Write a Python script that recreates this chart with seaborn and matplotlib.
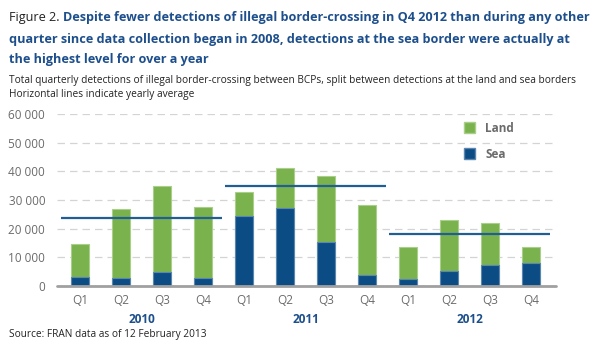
import numpy as np
import pandas as pd
import matplotlib
matplotlib.use("Agg")
import matplotlib.pyplot as plt
import seaborn as sns
from matplotlib.patches import Patch

# --- data ---
years = ["2010", "2011", "2012"]
quarters = ["Q1", "Q2", "Q3", "Q4"]
sea = [3300, 2950, 4900, 2700,
       24300, 27300, 15400, 3850,
       2350, 5250, 7350, 7950]
land = [11400, 23900, 29900, 24750,
        8500, 13900, 23000, 24400,
        11300, 17850, 14700, 5700]
yearly_avg = [23800, 34900, 18200]
yticks = [0, 10000, 20000, 30000, 40000, 50000, 60000]

# --- style ---
GREEN = "#7ab24d"
GREEN_EDGE = "#a9cf8a"
BLUE = "#0c4c85"
BLUE_EDGE = "#5b86ad"
LINE = "#215e94"
TITLE_BLUE = "#1d4f8c"
GREY_TXT = "#6b6b6b"

sns.set_theme(style="white")
plt.rcParams['font.family'] = ['Open Sans', 'DejaVu Sans']

df = pd.DataFrame({
    "period": [f"{y} {q}" for y in years for q in quarters],
    "quarter": [q for y in years for q in quarters],
    "year": [y for y in years for q in quarters],
    "sea": sea,
    "land": land,
})
df["total"] = df["sea"] + df["land"]
order = list(df["period"])

fig = plt.figure(figsize=(5.96, 3.51), dpi=100)
ax = fig.add_axes([57 / 596, 1 - 286 / 351, 499 / 596, 172 / 351])

sns.barplot(data=df, x="period", y="total", order=order, color=GREEN,
            width=0.44, edgecolor=GREEN_EDGE, linewidth=0.8, saturation=1, ax=ax)
sns.barplot(data=df, x="period", y="sea", order=order, color=BLUE,
            width=0.44, edgecolor=BLUE_EDGE, linewidth=0.8, saturation=1, ax=ax)

# yearly average lines
for i, avg in enumerate(yearly_avg):
    x0 = i * 4 - 0.46
    x1 = i * 4 + 3.46
    ax.hlines(avg, x0, x1, color=LINE, linewidth=1.6, zorder=4)

ax.set_xlim(-0.56, 11.6)
ax.set_ylim(0, 60000)
ax.set_yticks(yticks)
ax.set_yticklabels([f"{v:,}".replace(",", " ") for v in yticks])
ax.set_xticks(range(len(order)))
ax.set_xticklabels(df["quarter"])
ax.tick_params(axis="both", length=0, labelsize=8.5, labelcolor=GREY_TXT)
ax.tick_params(axis="x", pad=6)
ax.tick_params(axis="y", pad=8.5)
ax.set_xlabel("")
ax.set_ylabel("")

ax.yaxis.grid(True, color="#d4d4d4", linestyle=(0, (6, 4)), linewidth=0.9)
ax.set_axisbelow(True)
for s in ["top", "right", "left", "bottom"]:
    ax.spines[s].set_visible(False)
ax.axhline(0, color="#a0a0a0", linewidth=2, zorder=5, clip_on=False)

# year labels under the quarters
for i, y in enumerate(years):
    ax.text(i * 4 + 1.5, -0.195, y, transform=ax.get_xaxis_transform(),
            ha="center", va="center", fontsize=8.5, fontweight="bold",
            color=TITLE_BLUE)

# legend
handles = [Patch(facecolor=GREEN, edgecolor=GREEN_EDGE, label="Land"),
           Patch(facecolor=BLUE, edgecolor=BLUE_EDGE, label="Sea")]
leg = ax.legend(handles=handles, loc="upper left",
                bbox_to_anchor=(0.816, 0.955), frameon=False,
                handlelength=0.9, handleheight=1.0, handletextpad=0.9,
                labelspacing=1.1, borderpad=0, borderaxespad=0,
                prop={"size": 8.5, "weight": "bold"})
for t in leg.get_texts():
    t.set_color(GREY_TXT)

# titles
TSIZE = 9.1
fig.text(9 / 596, 1 - 17 / 351, "Figure 2.", fontsize=TSIZE, color="#222222",
         va="center", ha="left")
fig.text(63 / 596, 1 - 17 / 351,
         "Despite fewer detections of illegal border-crossing in Q4 2012 than during any other",
         fontsize=TSIZE, fontweight="bold", color=TITLE_BLUE, va="center", ha="left")
fig.text(9 / 596, 1 - 39 / 351,
         "quarter since data collection began in 2008, detections at the sea border were actually at",
         fontsize=TSIZE, fontweight="bold", color=TITLE_BLUE, va="center", ha="left")
fig.text(9 / 596, 1 - 60 / 351, "the highest level for over a year",
         fontsize=TSIZE, fontweight="bold", color=TITLE_BLUE, va="center", ha="left")
fig.text(9 / 596, 1 - 81 / 351,
         "Total quarterly detections of illegal border-crossing between BCPs, split between detections at the land and sea borders",
         fontsize=7.3, color="#222222", va="center", ha="left")
fig.text(9 / 596, 1 - 94 / 351, "Horizontal lines indicate yearly average",
         fontsize=7.3, color="#222222", va="center", ha="left")
fig.text(9 / 596, 1 - 334 / 351, "Source: FRAN data as of 12 February 2013",
         fontsize=7.3, color="#222222", va="center", ha="left")

fig.savefig("out.png", dpi=100)
